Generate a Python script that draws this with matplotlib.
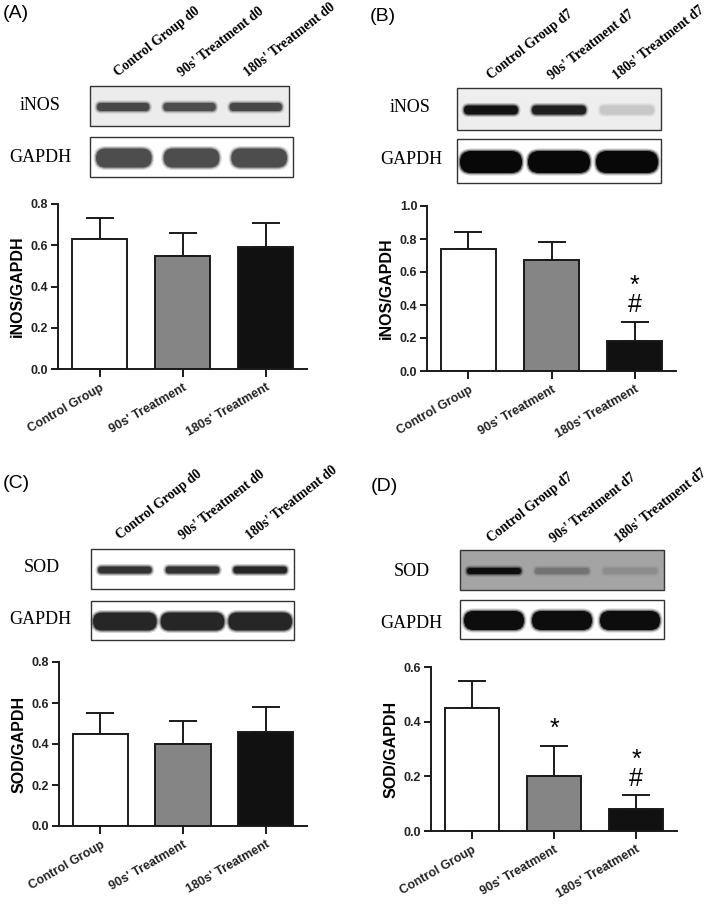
import matplotlib
matplotlib.use("Agg")
import matplotlib.pyplot as plt
from matplotlib.patches import FancyBboxPatch, Rectangle

W, H = 709, 906

groups = ["Control Group", "90s' Treatment", "180s' Treatment"]

# bar values (mean, upper error)
inos_d0 = [0.63, 0.55, 0.59]
inos_d0_err = [0.10, 0.11, 0.12]
inos_d7 = [0.74, 0.67, 0.18]
inos_d7_err = [0.10, 0.11, 0.12]
sod_d0 = [0.45, 0.40, 0.46]
sod_d0_err = [0.10, 0.11, 0.12]
sod_d7 = [0.45, 0.20, 0.08]
sod_d7_err = [0.10, 0.11, 0.05]

# significance marks above each bar
marks_inos_d0 = ["", "", ""]
marks_inos_d7 = ["", "", "*\n#"]
marks_sod_d0 = ["", "", ""]
marks_sod_d7 = ["", "*", "*\n#"]

# band darkness in the western blots (0 = nothing, 1 = black)
blot_inos_d0 = [0.72, 0.70, 0.72]
blot_gapdh_a = [0.70, 0.70, 0.70]
blot_inos_d7 = [0.93, 0.88, 0.22]
blot_gapdh_b = [0.97, 0.97, 0.97]
blot_sod_d0 = [0.80, 0.80, 0.85]
blot_gapdh_c = [0.85, 0.85, 0.85]
blot_sod_d7 = [0.95, 0.55, 0.45]
blot_gapdh_d = [0.95, 0.95, 0.95]

bar_colors = ["white", "#858585", "#111111"]

fig = plt.figure(figsize=(W / 100, H / 100), dpi=100)
ov = fig.add_axes([0, 0, 1, 1])
ov.set_xlim(0, W)
ov.set_ylim(H, 0)
ov.axis("off")


def px_axes(l, t, r, b):
    return fig.add_axes([l / W, 1 - b / H, (r - l) / W, (b - t) / H])


def blot(box, darkness, thick, bg, lane_pad=7):
    l, t, r, b = box
    ov.add_patch(Rectangle((l, t), r - l, b - t, facecolor=bg, edgecolor="#333333", lw=1.0))
    lw_ = (r - l) / 3
    cy = (t + b) / 2 + 1
    for i, d in enumerate(darkness):
        x0 = l + i * lw_ + lane_pad
        x1 = l + (i + 1) * lw_ - lane_pad
        g = 1 - d
        # soft halo then core
        for grow, a in [(2.5, 0.2), (1.2, 0.45), (0, 1.0)]:
            hh = thick + 2 * grow
            ov.add_patch(FancyBboxPatch((x0 - grow, cy - hh / 2), x1 - x0 + 2 * grow, hh,
                                        boxstyle="round,pad=0,rounding_size=%f" % (hh / 2),
                                        facecolor=(g, g, g), edgecolor="none", alpha=a))


def lane_labels(x_starts, y, suffix):
    for x, name in zip(x_starts, groups):
        ov.text(x, y, name + " " + suffix, rotation=38, ha="left", va="baseline",
                rotation_mode="anchor", family="Liberation Serif", weight="bold", fontsize=9.8)


def bars(ax, vals, errs, ymax, step, ylabel, marks):
    x = range(len(vals))
    ax.bar(x, vals, width=0.67, color=bar_colors, edgecolor="#1a1a1a", linewidth=1.4, zorder=2)
    ax.errorbar(x, vals, yerr=[[0] * len(errs), errs], fmt="none", ecolor="#1a1a1a",
                elinewidth=1.4, capsize=10, capthick=1.4, zorder=1)
    for xi, v, e, m in zip(x, vals, errs, marks):
        if m:
            ax.text(xi, v + e + ymax * 0.03, m, ha="center", va="bottom", fontsize=18,
                    family="Liberation Sans", linespacing=0.7)
    ax.set_xlim(-0.5, 2.5)
    ax.set_ylim(0, ymax)
    ticks = [round(i * step, 1) for i in range(int(round(ymax / step)) + 1)]
    ax.set_yticks(ticks)
    ax.set_yticklabels(["%.1f" % t for t in ticks])
    ax.set_xticks(list(x))
    ax.set_xticklabels(groups, rotation=30, ha="right", rotation_mode="anchor")
    for s in ["top", "right"]:
        ax.spines[s].set_visible(False)
    for s in ["left", "bottom"]:
        ax.spines[s].set_linewidth(1.4)
        ax.spines[s].set_color("#1a1a1a")
    ax.tick_params(axis="both", direction="out", width=1.4, color="#1a1a1a", length=5,
                   labelsize=9, pad=2)
    ax.tick_params(axis="x", length=6, pad=3)
    for lab in ax.get_xticklabels() + ax.get_yticklabels():
        lab.set_family("Liberation Sans")
        lab.set_weight("bold")
        lab.set_color("#222222")
    ax.set_ylabel(ylabel, family="Liberation Sans", weight="bold", fontsize=11.5, labelpad=4)
    ax.patch.set_alpha(0)


def panel_label(x, y, s):
    ov.text(x, y, s, family="Liberation Sans", fontsize=14, ha="left", va="top")


# (A)
panel_label(3, 5, "(A)")
lane_labels([118, 182, 248], 77, "d0")
ov.text(40, 106, "iNOS", family="Liberation Serif", fontsize=13, ha="center", va="center")
ov.text(40, 157, "GAPDH", family="Liberation Serif", fontsize=13, ha="center", va="center")
blot((90, 86, 289, 126), blot_inos_d0, 8, "#ececec")
blot((90, 137, 293, 177), blot_gapdh_a, 19, "white", lane_pad=6)
bars(px_axes(58, 204, 307, 369), inos_d0, inos_d0_err, 0.8, 0.2, "iNOS/GAPDH", marks_inos_d0)

# (B)
panel_label(370, 8, "(B)")
lane_labels([491, 552, 617], 80, "d7")
ov.text(410, 107, "iNOS", family="Liberation Serif", fontsize=13, ha="center", va="center")
ov.text(411, 160, "GAPDH", family="Liberation Serif", fontsize=13, ha="center", va="center")
blot((457, 88, 661, 130), blot_inos_d7, 9, "#eeeeee")
blot((457, 139, 661, 183), blot_gapdh_b, 22, "white", lane_pad=3)
bars(px_axes(427, 206, 676, 371), inos_d7, inos_d7_err, 1.0, 0.2, "iNOS/GAPDH", marks_inos_d7)

# (C)
panel_label(3, 475, "(C)")
lane_labels([120, 183, 250], 540, "d0")
ov.text(42, 568, "SOD", family="Liberation Serif", fontsize=13, ha="center", va="center")
ov.text(40, 620, "GAPDH", family="Liberation Serif", fontsize=13, ha="center", va="center")
blot((91, 549, 294, 589), blot_sod_d0, 7, "white")
blot((91, 601, 294, 640), blot_gapdh_c, 18, "white", lane_pad=2)
bars(px_axes(59, 662, 307, 826), sod_d0, sod_d0_err, 0.8, 0.2, "SOD/GAPDH", marks_sod_d0)

# (D)
panel_label(371, 478, "(D)")
lane_labels([491, 554, 619], 543, "d7")
ov.text(412, 572, "SOD", family="Liberation Serif", fontsize=13, ha="center", va="center")
ov.text(411, 623, "GAPDH", family="Liberation Serif", fontsize=13, ha="center", va="center")
blot((460, 550, 664, 590), blot_sod_d7, 6, "#a4a4a4")
blot((460, 600, 664, 639), blot_gapdh_d, 19, "white", lane_pad=4)
bars(px_axes(431, 667, 677, 831), sod_d7, sod_d7_err, 0.6, 0.2, "SOD/GAPDH", marks_sod_d7)

fig.savefig("out.png", dpi=100)
